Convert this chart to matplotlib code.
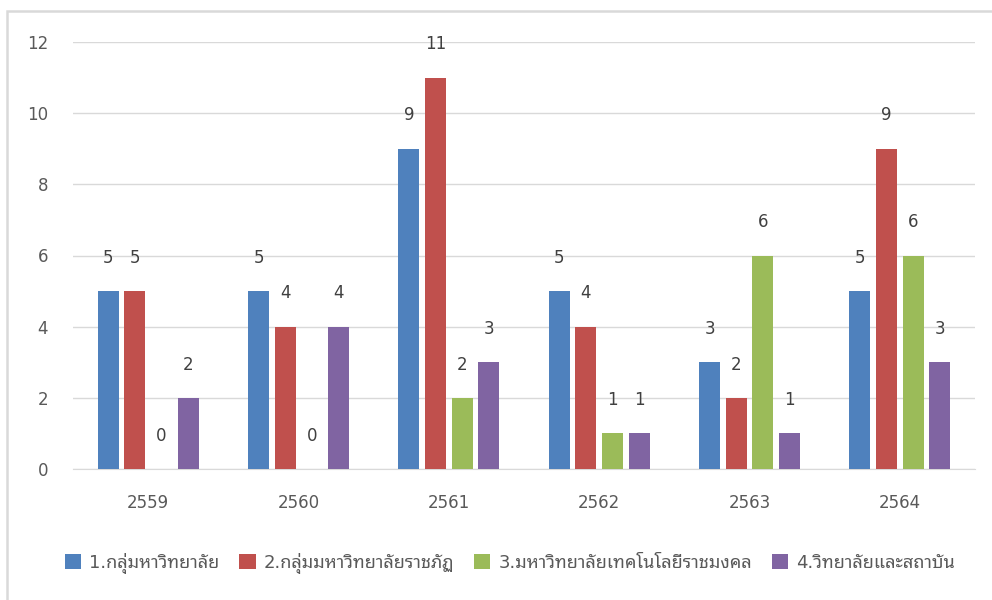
import matplotlib
matplotlib.use("Agg")
import matplotlib.pyplot as plt
from matplotlib.patches import Rectangle
import numpy as np

FONTS = ['DejaVu Sans', 'Noto Sans Thai Looped']
plt.rcParams['font.family'] = FONTS

years = ['2559', '2560', '2561', '2562', '2563', '2564']
series_names = ['1.กลุ่มหาวิทยาลัย', '2.กลุ่มมหาวิทยาลัยราชภัฏ',
                '3.มหาวิทยาลัยเทคโนโลยีราชมงคล', '4.วิทยาลัยและสถาบัน']
group1 = [5, 5, 9, 5, 3, 5]
group2 = [5, 4, 11, 4, 2, 9]
group3 = [0, 0, 2, 1, 6, 6]
group4 = [2, 4, 3, 1, 1, 3]
colors = ['#4F81BD', '#C0504D', '#9BBB59', '#8064A2']

W, H = 992, 600
fig = plt.figure(figsize=(W / 100, H / 100), dpi=100)

# outer frame, cut off on the right and bottom like the screenshot
fig.patches.append(Rectangle((7 / W, -0.1), 1.2, 1 - 11 / H + 0.1,
                             transform=fig.transFigure, fill=False,
                             edgecolor='#d9d9d9', linewidth=1.8))

ax = fig.add_axes([73 / W, 1 - 469 / H, (975 - 73) / W, (469 - 42) / H])

x = np.arange(len(years))
step = 0.177
width = 0.14
all_series = [group1, group2, group3, group4]
for j, vals in enumerate(all_series):
    pos = x + (j - 1.5) * step
    ax.bar(pos, vals, width=width, color=colors[j], label=series_names[j], zorder=3)
    for px, v in zip(pos, vals):
        ax.annotate(str(v), (px, v), xytext=(0, 24), textcoords='offset points',
                    ha='center', va='center', fontsize=12, color='#404040',
                    family='DejaVu Sans')

ax.set_xlim(-0.5, len(years) - 0.5)
ax.set_ylim(0, 12)
ax.set_yticks(range(0, 13, 2))
ax.set_xticks(x)
ax.set_xticklabels(years)
ax.tick_params(axis='both', length=0, labelsize=12, colors='#595959')
ax.tick_params(axis='y', pad=18)
ax.tick_params(axis='x', pad=18)
for lab in ax.get_xticklabels() + ax.get_yticklabels():
    lab.set_family('DejaVu Sans')
ax.grid(axis='y', color='#d9d9d9', linewidth=1, zorder=0)
for s in ['top', 'right', 'left']:
    ax.spines[s].set_visible(False)
ax.spines['bottom'].set_color('#d9d9d9')

leg = fig.legend(loc='center', bbox_to_anchor=(510 / W, 1 - 563 / H), ncol=4,
                 frameon=False, prop={'family': FONTS, 'size': 13},
                 handlelength=0.9, handleheight=0.9,
                 handletextpad=0.45, columnspacing=1.1, labelcolor='#595959')

fig.savefig('out.png', dpi=100, facecolor='white')
